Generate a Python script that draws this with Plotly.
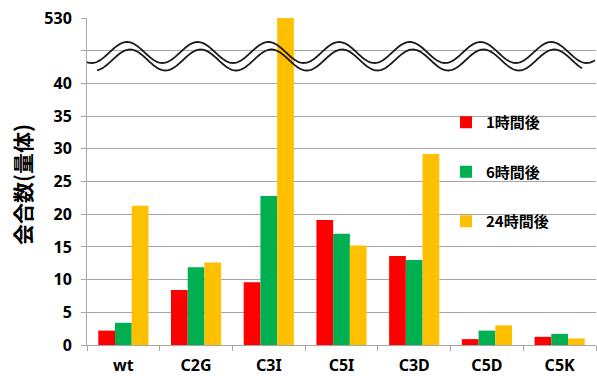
import numpy as np
import plotly.graph_objects as go

categories = ["wt", "C2G", "C3I", "C5I", "C3D", "C5D", "C5K"]
series_names = ["1時間後", "6時間後", "24時間後"]
h1 = [2.2, 8.4, 9.6, 19.1, 13.6, 0.9, 1.25]
h6 = [3.4, 11.9, 22.8, 17.0, 13.0, 2.2, 1.7]
h24 = [21.3, 12.6, 50.0, 15.2, 29.2, 3.0, 1.0]  # C3I value (530) shown past axis break at top
colors = ["#FF0000", "#00B050", "#FFC000"]
tick_vals = [0, 5, 10, 15, 20, 25, 30, 35, 40, 45, 50]
tick_text = ["0", "5", "10", "15", "20", "25", "30", "35", "40", "", "530"]

W, H = 597, 376
L, R, T, B = 87, 1, 18, 31
pw = W - L - R
ph = H - T - B

fig = go.Figure()
for name, vals, c in zip(series_names, [h1, h6, h24], colors):
    fig.add_trace(go.Bar(x=categories, y=vals, name=name, marker_color=c,
                         marker_line_width=0, legendgroup=name))

# axis-break wavy lines (decoration), in pixel -> paper coordinates
def px2paper_x(px):
    return (px - L) / pw

def px2paper_y(py):
    return (H - B - py) / ph

def wave(x0, x1, xc, ymid, amp, period=70.7):
    xs = np.linspace(x0, x1, 400)
    ys = ymid - amp * np.cos(2 * np.pi * (xs - xc) / period)
    pts = [f"{px2paper_x(x):.5f},{px2paper_y(y):.5f}" for x, y in zip(xs, ys)]
    return "M " + " L ".join(pts)

shapes = [
    dict(type="path", xref="paper", yref="paper", path=wave(87, 595, 127, 52.5, 10.5),
         line=dict(color="#1a1a1a", width=1.8), layer="above"),
    dict(type="path", xref="paper", yref="paper", path=wave(97, 582, 130, 60, 10.5),
         line=dict(color="#1a1a1a", width=1.8), layer="above"),
]

fig.update_layout(
    width=W, height=H,
    margin=dict(l=L, r=R, t=T, b=B, autoexpand=False),
    plot_bgcolor="white", paper_bgcolor="white",
    barmode="group", bargap=0.31, bargroupgap=0,
    font=dict(family="Noto Sans, Noto Sans CJK JP", size=14, color="#000000"),
    showlegend=True,
    legend=dict(x=px2paper_x(446), y=px2paper_y(106), xanchor="left", yanchor="top",
                bgcolor="rgba(0,0,0,0)", traceorder="grouped", tracegroupgap=27,
                font=dict(family="Noto Sans CJK JP", size=15, color="#000000", weight="bold"),
                itemwidth=30),
    shapes=shapes,
    annotations=[dict(text="<b>会合数(量体)</b>", xref="paper", yref="paper",
                      x=px2paper_x(22), y=px2paper_y(185), textangle=-90,
                      showarrow=False, xanchor="center", yanchor="middle",
                      font=dict(family="Noto Sans CJK JP", size=21, color="#000000"))],
)
fig.update_xaxes(
    automargin=False,
    showline=True, linecolor="#A6A6A6", linewidth=1,
    ticks="outside", tickson="boundaries", ticklen=5, tickcolor="#A6A6A6",
    tickfont=dict(family="Noto Sans", size=16, color="#000000", weight="bold"),
    ticklabelstandoff=6, showgrid=False, range=[-0.5, 6.5],
)
fig.update_yaxes(
    automargin=False,
    range=[0, 50], tickvals=tick_vals, ticktext=tick_text,
    showline=True, linecolor="#A6A6A6", linewidth=1,
    ticks="outside", ticklen=5, tickcolor="#A6A6A6",
    showgrid=True, gridcolor="#A6A6A6", gridwidth=1,
    zeroline=False,
    tickfont=dict(family="Noto Sans", size=16, color="#000000", weight="bold"),
    ticklabelstandoff=6,
)

fig.write_html("out.html", config={"displayModeBar": False},
               post_script="document.body.style.margin='0';document.body.style.overflow='hidden';")
